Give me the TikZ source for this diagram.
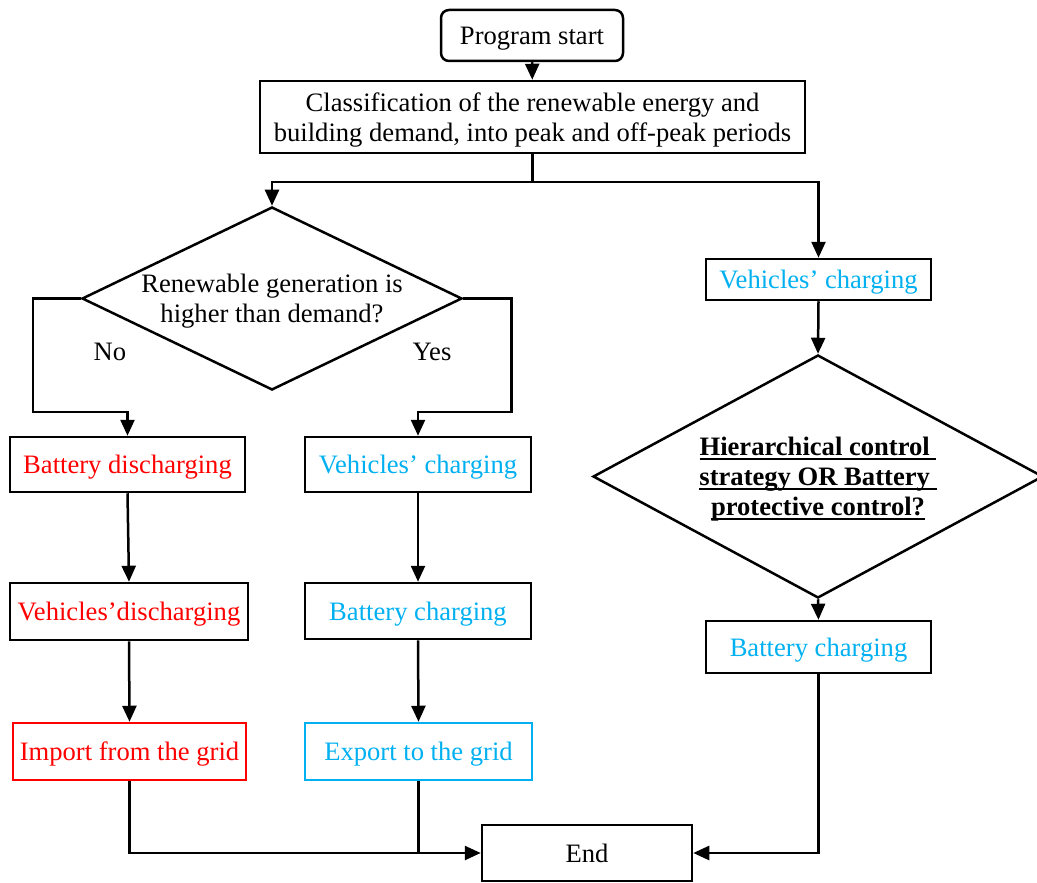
\documentclass[tikz,border=0pt]{standalone}
\usepackage{fontspec}
\setmainfont{Liberation Serif}
\usetikzlibrary{shapes.geometric,arrows.meta,calc}
\definecolor{hotred}{RGB}{255,0,0}
\definecolor{skyblue}{RGB}{0,176,240}
% heavier underline sitting close to the baseline
\newcommand\heavyul[1]{\leavevmode\setbox0\hbox{#1}\rlap{\rule[-2.2pt]{\wd0}{1.1pt}}\box0}
\begin{document}
\begin{tikzpicture}[x=0.5pt,y=-0.5pt,
  line width=1.25pt,
  every node/.style={font=\fontsize{13.3}{15}\selectfont, text depth=0pt},
  box/.style={draw, rectangle, inner sep=0pt, align=center},
  decision/.style={draw, diamond, inner sep=0pt},
  arr/.style={-{Triangle[length=8pt,width=7pt]}},
  redtxt/.style={text=hotred},
  bluetxt/.style={text=skyblue}]
\useasboundingbox (0,0) rectangle (1037,882);

% main column
\node[box, rounded corners=4pt, minimum width=91pt, minimum height=25.5pt] (start) at (532,35.5) {Program start};
\node[box, minimum width=272.5pt, minimum height=36pt] (class) at (532.5,117)
  {Classification of the renewable energy and\\building demand, into peak and off-peak periods};

% left decision
\node[decision, minimum width=190pt, minimum height=91.5pt] (d1) at (272,298.5) {};
\node[align=center] (d1txt) at (d1) {Renewable generation is\\higher than demand?};
\node (no) at (110,352) {No};
\node (yes) at (432,352) {Yes};

% "No" branch
\node[box, redtxt, minimum width=117.5pt, minimum height=27.5pt] (bdis) at (127.5,464.5) {Battery discharging};
\node[box, redtxt, minimum width=119pt, minimum height=28.5pt] (vdis) at (129,611.5) {Vehicles’discharging};
\node[box, redtxt, draw=hotred, minimum width=116.5pt, minimum height=28.5pt] (imp) at (129.5,751.5) {Import from the grid};

% "Yes" branch
\node[box, bluetxt, minimum width=113pt, minimum height=27.5pt] (vch1) at (418,464.5) {Vehicles’ charging};
\node[box, bluetxt, minimum width=113pt, minimum height=28pt] (bch1) at (418,611) {Battery charging};
\node[box, bluetxt, draw=skyblue, minimum width=113.5pt, minimum height=28.5pt] (exp) at (418.5,751.5) {Export to the grid};

% right column
\node[box, bluetxt, minimum width=112.5pt, minimum height=20.5pt] (vch2) at (818.5,279.5) {Vehicles’ charging};
\node[decision, minimum width=225pt, minimum height=121.5pt] (d2) at (818,476.5) {};
\node[align=center, font=\fontsize{13.3}{15}\selectfont\bfseries] (d2txt) at (d2)
  {\heavyul{Hierarchical control\ }\\\heavyul{strategy OR Battery\ }\\\heavyul{protective control?}};
\node[box, bluetxt, minimum width=112.5pt, minimum height=26pt] (bch2) at (818.5,647) {Battery charging};

\node[box, minimum width=105pt, minimum height=28pt] (end) at (587,853) {End};

% connectors
\draw[arr] (start) -- (class);
\coordinate (split) at ($(class.south)+(0,28)$);
\draw[arr] (class.south) -- (split) -| (d1.north);
\draw[arr] (split) -| (vch2.north);

\draw[arr] (d1.west) -- ++(-48,0) |- ($(bdis.north)+(0,-24)$) -- (bdis.north);
\draw[arr] (d1.east) -- ++(48,0) |- ($(vch1.north)+(0,-24)$) -- (vch1.north);

\draw[arr] (bdis.south) -- (vdis.north);
\draw[arr] (vdis.south) -- (imp.north);
\draw[arr] (vch1.south) -- (bch1.north);
\draw[arr] (bch1.south) -- (exp.north);

\draw[arr] (vch2.south) -- (d2.north);
\draw[arr] (d2.south) -- (bch2.north);

\draw[arr] (imp.south) |- (end.west);
\draw (exp.south) -- (exp.south |- end.west);
\draw[arr] (bch2.south) |- (end.east);
\end{tikzpicture}
\end{document}
